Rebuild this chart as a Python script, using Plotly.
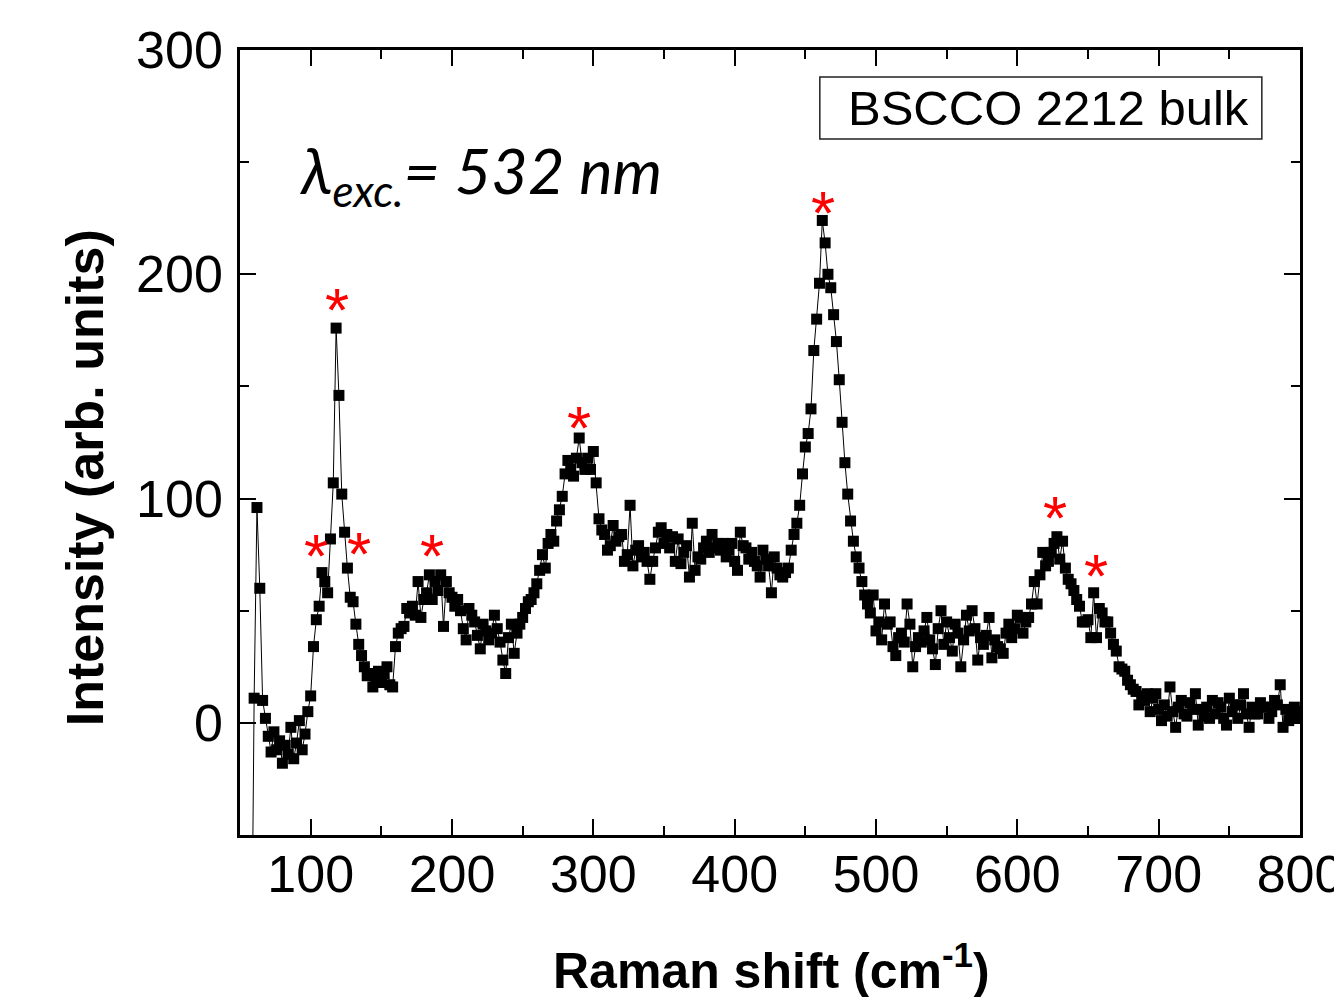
import plotly.graph_objects as go

# Raman shift grid (cm^-1), sampled every 2 cm^-1 starting at 58
x_start = 58
x_step = 2
intensity = [
    -130, 11, 96, 60, 10, 2, -6, -13, -4, -12,      # 58-76
    -8, -18, -10, -14, -2, -16, -9, 1, -12, -5,     # 78-96
    5, 12, 34, 46, 52, 67, 63, 58, 82, 107,         # 98-116
    176, 146, 102, 85, 69, 56, 54, 44, 35, 30,      # 118-136
    25, 21, 22, 16, 19, 23, 18, 22, 25, 17,         # 138-156
    16, 34, 40, 42, 43, 51, 49, 52, 48, 63,         # 158-176
    47, 55, 58, 66, 55, 63, 59, 66, 43, 63,         # 178-196
    58, 56, 52, 55, 50, 42, 37, 51, 48, 45,         # 198-216
    39, 33, 44, 41, 37, 40, 48, 42, 36, 28,         # 218-236
    22, 38, 44, 31, 40, 44, 47, 51, 54, 55,         # 238-256
    58, 62, 68, 75, 69, 80, 84, 81, 90, 95,         # 258-276
    101, 111, 117, 113, 110, 118, 127, 116, 113, 118,  # 278-296
    113, 121, 107, 91, 86, 84, 77, 79, 88, 81,      # 298-316
    83, 84, 72, 75, 97, 70, 77, 79, 74, 76,         # 318-336
    72, 64, 72, 78, 85, 87, 80, 84, 78, 83,         # 338-356
    72, 82, 71, 76, 79, 65, 89, 68, 74, 73,         # 358-376
    78, 81, 76, 84, 78, 80, 77, 80, 74, 77,         # 378-396
    80, 72, 68, 85, 79, 78, 73, 76, 72, 70,         # 398-416
    65, 77, 73, 70, 58, 74, 69, 66, 65, 67,         # 418-436
    69, 77, 84, 89, 97, 111, 123, 129, 140, 166,    # 438-456
    180, 196, 224, 214, 200, 194, 182, 170, 153, 134,  # 458-476
    116, 102, 90, 81, 74, 69, 63, 57, 53, 49,       # 478-496
    57, 41, 45, 37, 53, 44, 45, 34, 30, 38,         # 498-516
    40, 36, 53, 44, 25, 34, 38, 36, 41, 47,         # 518-536
    37, 33, 26, 42, 50, 35, 45, 38, 32, 44,         # 538-556
    40, 25, 37, 48, 41, 50, 42, 28, 38, 35,         # 558-576
    39, 47, 29, 37, 34, 33, 31, 40, 44, 38,         # 578-596
    42, 48, 47, 40, 45, 47, 53, 63, 53, 66,         # 598-616
    76, 70, 72, 76, 80, 83, 73, 81, 69, 64,         # 618-636
    62, 59, 55, 52, 45, 45, 46, 38, 58, 38,         # 638-656
    51, 49, 45, 45, 40, 35, 32, 25, 24, 23,         # 658-676
    19, 17, 15, 14, 8, 12, 10, 13, 5, 11,           # 678-696
    13, 6, 1, 8, 3, 16, 5, -2, 7, 10,               # 698-716
    4, 3, 9, 6, 13, -1, 6, 3, 7, 2,                 # 718-736
    10, 4, 9, 7, 2, -1, 11, 5, 8, 2,                # 738-756
    8, 13, 4, -2, 7, 4, 4, 9, 7, 7,                 # 758-776
    2, 5, 10, 8, 17, -2, 6, 1, 4, 7,                # 778-796
    2, 5,                                           # 798-800
]
raman_shift = [x_start + i * x_step for i in range(len(intensity))]

# Peak markers (red asterisks)
star_x = [104, 118.6, 134.2, 186, 290, 462.5, 626.7, 655.7]
star_y = [77.7, 187.5, 78.6, 77.7, 134.8, 230.8, 94.6, 68.8]

x_ticks = [100, 200, 300, 400, 500, 600, 700, 800]
y_ticks = [0, 100, 200, 300]

ARIAL = "Arial, Liberation Sans, sans-serif"

fig = go.Figure()
fig.add_trace(go.Scatter(
    x=raman_shift, y=intensity, mode="lines+markers",
    line=dict(color="black", width=1),
    marker=dict(symbol="square", size=11, color="black"),
    showlegend=False, cliponaxis=True,
))

for sx, sy in zip(star_x, star_y):
    fig.add_annotation(x=sx, y=sy, text="*", showarrow=False,
                       font=dict(family=ARIAL, size=62, color="red"),
                       xanchor="center", yanchor="middle", yshift=-7)

fig.add_annotation(
    xref="paper", yref="paper", x=0.054, y=0.8416, xanchor="left", yanchor="middle",
    text="<i>λ<sub>exc.</sub>= 532 nm</i>", showarrow=False,
    font=dict(family="Lato, Open Sans, sans-serif", size=63, color="black"))

fig.add_shape(type="rect", xref="paper", yref="paper",
              x0=0.547, x1=0.964, y0=0.8866, y1=0.9656,
              line=dict(color="#222222", width=1.5), fillcolor="white")
fig.add_annotation(
    xref="paper", yref="paper", x=0.7623, y=0.926, xanchor="center", yanchor="middle",
    text="BSCCO 2212 bulk", showarrow=False,
    font=dict(family=ARIAL, size=49, color="black"))

# Axis titles
fig.add_annotation(
    xref="paper", yref="paper", x=0.501, y=-0.168, xanchor="center", yanchor="middle",
    text="<b>Raman shift (cm<sup>-1</sup>)</b>", showarrow=False,
    font=dict(family=ARIAL, size=50, color="black"))
fig.add_annotation(
    xref="paper", yref="paper", x=-0.146, y=0.4548, xanchor="center", yanchor="middle",
    text="<b>Intensity (arb. units)</b>", showarrow=False, textangle=-90,
    font=dict(family=ARIAL, size=52, color="black"))

axis_common = dict(
    showline=True, linecolor="black", linewidth=2.5, mirror="ticks",
    ticks="inside", ticklen=16, tickwidth=2, tickcolor="black",
    showgrid=False, zeroline=False, automargin=False,
    ticklabeloverflow="allow",
    tickfont=dict(family=ARIAL, size=52, color="black"),
)

fig.update_xaxes(
    range=[50, 800], tickvals=x_ticks, ticktext=[str(v) for v in x_ticks],
    minor=dict(dtick=50, tick0=50, ticks="inside", ticklen=9, tickwidth=2, tickcolor="black"),
    ticklabelstandoff=-8,
    **axis_common)
fig.update_yaxes(
    range=[-50, 300], tickvals=y_ticks, ticktext=[str(v) for v in y_ticks],
    minor=dict(dtick=50, tick0=0, ticks="inside", ticklen=9, tickwidth=2, tickcolor="black"),
    ticklabelstandoff=4,
    **axis_common)

# The page body adds an 8 px offset, so margins are reduced accordingly
fig.update_layout(
    width=1342, height=997,
    margin=dict(l=232, r=50, t=42, b=170),
    paper_bgcolor="white", plot_bgcolor="white",
)

fig.write_html("out.html")
